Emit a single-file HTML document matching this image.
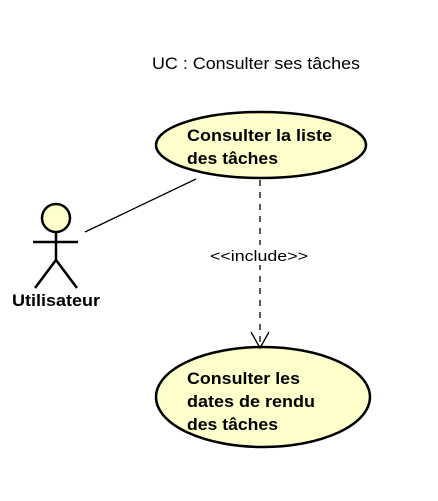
<!DOCTYPE html>
<html><head><meta charset="utf-8"><style>
body{margin:0;background:#fff;}
svg{display:block;font-family:"Liberation Sans",Arial,sans-serif;}
</style></head><body>
<svg width="438" height="501" viewBox="0 0 438 501" xmlns="http://www.w3.org/2000/svg">
<text x="152" y="69" font-size="17" textLength="208" lengthAdjust="spacingAndGlyphs">UC : Consulter ses tâches</text>
<ellipse cx="261" cy="145" rx="105" ry="33" fill="#ffffcc" stroke="#000" stroke-width="2.5"/>
<text x="187" y="141" font-size="17" font-weight="bold" textLength="145" lengthAdjust="spacingAndGlyphs">Consulter la liste</text>
<text x="187" y="164" font-size="17" font-weight="bold" textLength="91" lengthAdjust="spacingAndGlyphs">des tâches</text>
<ellipse cx="263" cy="397" rx="107" ry="50" fill="#ffffcc" stroke="#000" stroke-width="2.5"/>
<text x="187" y="384" font-size="17" font-weight="bold" textLength="113" lengthAdjust="spacingAndGlyphs">Consulter les</text>
<text x="187" y="407" font-size="17" font-weight="bold" textLength="128" lengthAdjust="spacingAndGlyphs">dates de rendu</text>
<text x="187" y="430" font-size="17" font-weight="bold" textLength="91" lengthAdjust="spacingAndGlyphs">des tâches</text>
<line x1="85" y1="232" x2="196" y2="179" stroke="#000" stroke-width="1.3"/>
<line x1="260" y1="180" x2="260" y2="347" stroke="#000" stroke-width="1.3" stroke-dasharray="6,6"/>
<polyline points="251,332 260,348 269,332" fill="none" stroke="#000" stroke-width="1.3"/>
<rect x="208" y="245" width="104" height="20" fill="#fff"/>
<text x="210" y="261" font-size="15" textLength="98" lengthAdjust="spacingAndGlyphs">&lt;&lt;include&gt;&gt;</text>
<circle cx="56" cy="218" r="14" fill="#ffffcc" stroke="#000" stroke-width="2.5"/>
<line x1="56" y1="232" x2="56" y2="260" stroke="#000" stroke-width="2.5"/>
<line x1="33" y1="242" x2="78" y2="242" stroke="#000" stroke-width="2.5"/>
<polyline points="35,288 56,260 77,288" fill="none" stroke="#000" stroke-width="2.5"/>
<text x="12" y="306" font-size="17" font-weight="bold" textLength="88" lengthAdjust="spacingAndGlyphs">Utilisateur</text>
</svg>
</body></html>
